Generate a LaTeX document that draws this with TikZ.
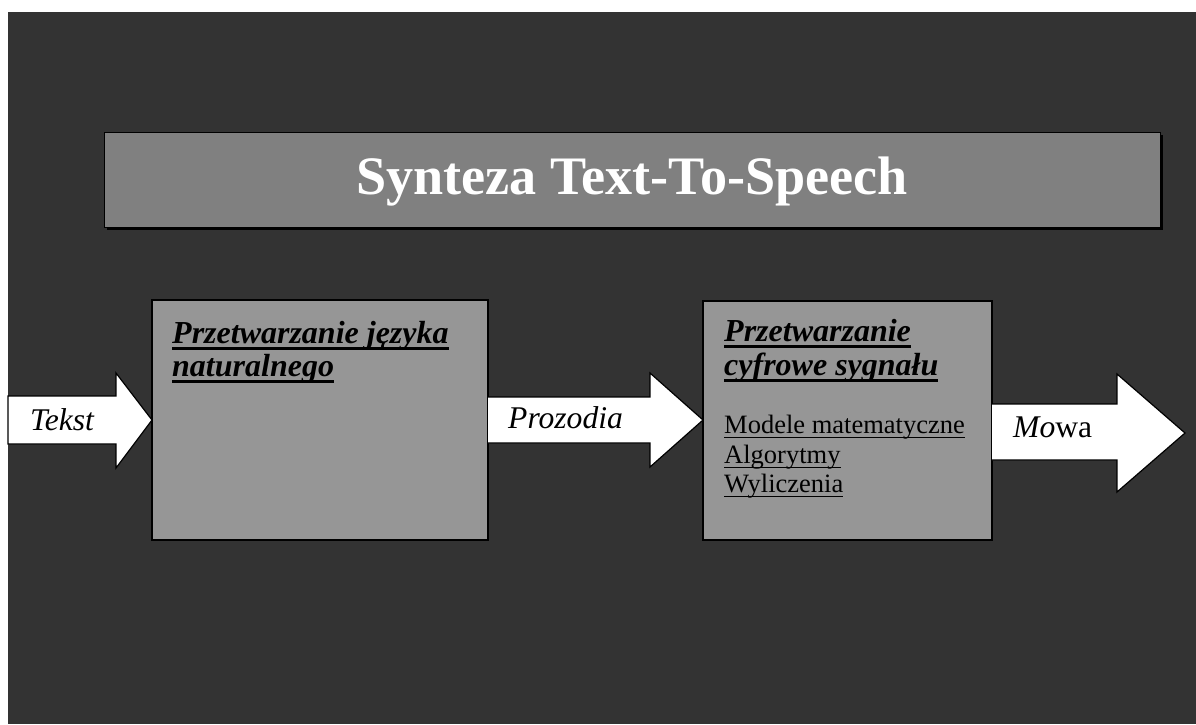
\documentclass[tikz,border=0pt]{standalone}
\usepackage{fontspec}
\setmainfont{Liberation Serif}
\definecolor{bgdark}{HTML}{333333}
\definecolor{titlegray}{HTML}{808080}
\definecolor{boxgray}{HTML}{969696}
\newsavebox\ulbox
\newcommand\ulin[3]{\sbox\ulbox{#3}\rlap{\rule[-#1]{\wd\ulbox}{#2}}\usebox\ulbox}
\newcommand\headul[1]{\ulin{7pt}{2.6pt}{#1}}
\newcommand\listul[1]{\ulin{5.2pt}{1.3pt}{#1}}
\tikzset{
  panel/.style={draw=black, line width=1.5pt, fill=boxgray, inner sep=0pt, outer sep=0pt, anchor=north west},
  blockarrow/.style={draw=black, line width=1.2pt, fill=white, line join=miter},
  arrowlabel/.style={anchor=base west, inner sep=0pt, font=\fontsize{31.6}{36}\selectfont},
  headline/.style={anchor=base west, inner sep=0pt, font=\fontsize{32}{36}\selectfont\bfseries\itshape},
  listline/.style={anchor=base west, inner sep=0pt, font=\fontsize{26.5}{30}\selectfont},
}
\begin{document}
\begin{tikzpicture}[x=1pt,y=-1pt]
\useasboundingbox (0,0) rectangle (1196,724);
\fill[white] (0,0) rectangle (1196,724);
\fill[bgdark] (8,12) rectangle (1196,724);
% title box with shadow
\fill[black] (106.5,134.5) rectangle (1162.5,230);
\node[draw=black, line width=1pt, fill=titlegray, inner sep=0pt, outer sep=0pt, anchor=north west,
      minimum width=1056pt, minimum height=95pt] (title) at (104,132) {};
\node[anchor=base, inner sep=0pt, text=white, font=\fontsize{54.2}{60}\selectfont\bfseries] (titletext) at (632,194) {Synteza Text-To-Speech};
% panels
\node[panel, minimum width=336pt, minimum height=240pt] (nlp) at (152,300) {};
\node[panel, minimum width=289pt, minimum height=239pt] (dsp) at (703,301) {};
% block arrows
\draw[blockarrow] (8,396) -- (116,396) -- (116,373) -- (nlp.west |- 0,420) -- (116,468) -- (116,444) -- (8,444) -- cycle;
\draw[blockarrow] (nlp.east |- 0,397) -- (650,397) -- (650,373) -- (dsp.west |- 0,420) -- (650,467) -- (650,443) -- (nlp.east |- 0,443);
\draw[blockarrow] (dsp.east |- 0,404) -- (1117,404) -- (1117,374) -- (1185,433) -- (1117,492) -- (1117,460) -- (dsp.east |- 0,460);
% arrow labels
\node[arrowlabel] (tekst) at (30,430) {\itshape Tekst};
\node[arrowlabel] (prozodia) at (508,428) {\itshape Prozodia};
\node[arrowlabel] (mowa) at (1013,437) {\textit{Mo}wa};
% panel headings
\node[headline] (h1a) at (172,343) {\headul{Przetwarzanie języka}};
\node[headline] (h1b) at (172,376) {\headul{naturalnego}};
\node[headline] (h2a) at (724,341) {\headul{Przetwarzanie}};
\node[headline] (h2b) at (724,375) {\headul{cyfrowe sygnału}};
% list
\node[listline] (l1) at (724,433) {\listul{Modele matematyczne}};
\node[listline] (l2) at (724,463) {\listul{Algorytmy}};
\node[listline] (l3) at (724,492) {\listul{Wyliczenia}};
\end{tikzpicture}
\end{document}
